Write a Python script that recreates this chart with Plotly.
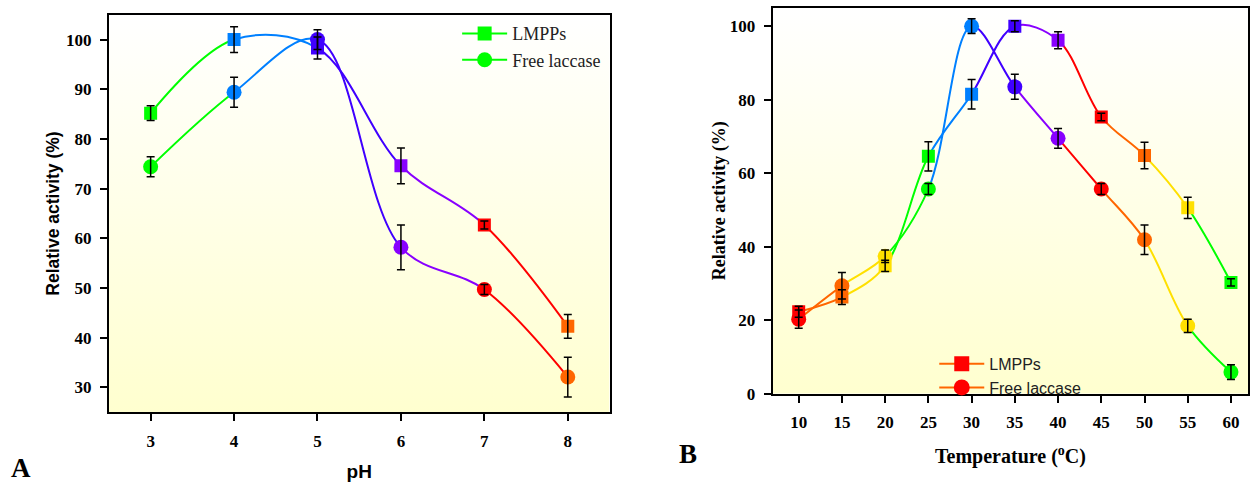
import plotly.graph_objects as go

# ---------------- Data: panel A (pH) ----------------
ph = [3, 4, 5, 6, 7, 8]
ph_lmpps = [85.2, 100.0, 98.3, 74.6, 62.7, 42.3]
ph_lmpps_err = [1.5, 2.6, 2.2, 3.6, 0.8, 2.4]
ph_free = [74.4, 89.4, 100.0, 58.2, 49.7, 32.1]
ph_free_err = [2.0, 3.0, 2.0, 4.5, 1.0, 4.0]
ph_point_colors = ["#00FF00", "#0080FF", "#4000FF", "#8800FF", "#FF0000", "#FF6600"]
ph_segment_colors = ph_point_colors[:-1]          # segment coloured by its start point

# ---------------- Data: panel B (temperature) ----------------
temp = [10, 15, 20, 25, 30, 35, 40, 45, 50, 55, 60]
t_lmpps = [22.3, 26.3, 34.8, 64.6, 81.5, 100.0, 96.2, 75.3, 64.8, 50.6, 30.3]
t_lmpps_err = [1.5, 2.0, 1.5, 4.0, 4.0, 1.5, 2.3, 1.0, 3.6, 2.9, 1.0]
t_free = [20.3, 29.4, 37.4, 55.7, 100.0, 83.5, 69.5, 55.7, 41.9, 18.5, 5.9]
t_free_err = [2.5, 3.6, 1.7, 1.5, 2.0, 3.4, 2.7, 1.5, 4.0, 1.8, 2.0]
t_point_colors = ["#FF0000", "#FF6600", "#FFE000", "#00FF00", "#0080FF", "#4000FF",
                  "#8800FF", "#FF0000", "#FF6600", "#FFE000", "#00FF00"]
t_segment_colors = t_point_colors[1:]             # segment coloured by its end point

series_names = ["LMPPs", "Free laccase"]

# ---------------- Layout geometry ----------------
L_DOM_X, L_DOM_Y = [0.0872, 0.488], [0.132, 0.969]
R_DOM_X, R_DOM_Y = [0.6187, 0.9994], [0.171, 0.9835]
L_XR, L_YR = [2.5, 8.5], [25, 105]
R_XR, R_YR = [7, 62], [0, 105]

SERIF = "Liberation Serif, Times New Roman, serif"
SANS = "Liberation Sans, Arial, sans-serif"

fig = go.Figure()
layout = {}

def bg_trace(xa, ya, xr, yr):
    return go.Scatter(
        x=[xr[0], xr[1], xr[1], xr[0], xr[0]], y=[yr[0], yr[0], yr[1], yr[1], yr[0]],
        xaxis=xa, yaxis=ya, mode="lines", line=dict(width=0), fill="toself",
        fillgradient=dict(type="vertical", colorscale=[[0, "#FFFFCF"], [1, "#FFFFFF"]]),
        hoverinfo="skip", showlegend=False)

fig.add_trace(bg_trace("x", "y", L_XR, L_YR))
fig.add_trace(bg_trace("x2", "y2", R_XR, R_YR))

axis_counter = [3]

def add_segments(xs, series_list, seg_colors, dom, xr, ya):
    """Each segment is drawn with Plotly's spline on a hidden x-axis whose domain
    covers exactly that segment, so the smooth curve is clipped per colour."""
    for k in range(len(xs) - 1):
        aid = axis_counter[0]
        axis_counter[0] += 1
        f0 = (xs[k] - xr[0]) / (xr[1] - xr[0])
        f1 = (xs[k + 1] - xr[0]) / (xr[1] - xr[0])
        d0 = dom[0] + f0 * (dom[1] - dom[0])
        d1 = dom[0] + f1 * (dom[1] - dom[0])
        layout["xaxis%d" % aid] = dict(domain=[d0, d1], range=[xs[k], xs[k + 1]],
                                        visible=False, anchor=ya, fixedrange=True)
        lo, hi = max(0, k - 1), min(len(xs), k + 3)
        for ys in series_list:
            fig.add_trace(go.Scatter(
                x=xs[lo:hi], y=ys[lo:hi], xaxis="x%d" % aid, yaxis=ya,
                mode="lines", line=dict(color=seg_colors[k], width=2, shape="spline", smoothing=1),
                hoverinfo="skip", showlegend=False))

add_segments(ph, [ph_lmpps, ph_free], ph_segment_colors, L_DOM_X, L_XR, "y")
add_segments(temp, [t_lmpps, t_free], t_segment_colors, R_DOM_X, R_XR, "y2")

def add_markers(xs, series, errs, colors, dom, xr, ya):
    aid = axis_counter[0]
    axis_counter[0] += 1
    layout["xaxis%d" % aid] = dict(domain=dom, range=xr, visible=False, anchor=ya, fixedrange=True)
    symbols = ["square", "circle"]
    sizes = [13, 15]
    for ys, sym, sz in zip(series, symbols, sizes):
        fig.add_trace(go.Scatter(
            x=xs, y=ys, xaxis="x%d" % aid, yaxis=ya, mode="markers",
            marker=dict(symbol=sym, size=sz, color=colors, line=dict(width=0)),
            showlegend=False))
    for ys, es in zip(series, errs):
        fig.add_trace(go.Scatter(
            x=xs, y=ys, xaxis="x%d" % aid, yaxis=ya, mode="markers",
            marker=dict(size=1, color="rgba(0,0,0,0)"),
            error_y=dict(type="data", array=es, visible=True, color="black", thickness=1.5, width=4),
            showlegend=False, hoverinfo="skip"))

add_markers(ph, [ph_lmpps, ph_free], [ph_lmpps_err, ph_free_err], ph_point_colors, L_DOM_X, L_XR, "y")
add_markers(temp, [t_lmpps, t_free], [t_lmpps_err, t_free_err], t_point_colors, R_DOM_X, R_XR, "y2")

# legend entries
for name, sym, sz in zip(series_names, ["square", "circle"], [14, 15]):
    fig.add_trace(go.Scatter(x=[None], y=[None], xaxis="x", yaxis="y", mode="lines+markers", name=name,
                             line=dict(color=ph_segment_colors[0], width=2),
                             marker=dict(symbol=sym, size=sz, color=ph_point_colors[0]),
                             legend="legend"))
for name, sym, sz in zip(series_names, ["square", "circle"], [15, 16]):
    fig.add_trace(go.Scatter(x=[None], y=[None], xaxis="x2", yaxis="y2", mode="lines+markers", name=name,
                             line=dict(color=t_segment_colors[0], width=2),
                             marker=dict(symbol=sym, size=sz, color=t_point_colors[0]),
                             legend="legend2"))

def main_axis(dom, rng, anchor, tickvals, font, title, title_font, standoff):
    return dict(domain=dom, range=rng, anchor=anchor, tickvals=tickvals,
                showline=True, linecolor="black", linewidth=2, mirror=True,
                ticks="outside", ticklen=7, tickwidth=2, tickcolor="black",
                ticklabelstandoff=5,
                showgrid=False, zeroline=False, fixedrange=True,
                tickfont=font, title=dict(text=title, font=title_font, standoff=standoff))

tick_font = dict(family=SERIF, size=17, color="black", weight="bold")

layout["xaxis"] = main_axis(L_DOM_X, L_XR, "y", ph, tick_font, "pH",
                            dict(family=SANS, size=19, color="black", weight="bold"), 15)
layout["yaxis"] = main_axis(L_DOM_Y, L_YR, "x", [30, 40, 50, 60, 70, 80, 90, 100], tick_font,
                            "Relative activity (%)", dict(family=SANS, size=17.5, color="black", weight="bold"), 2)
layout["xaxis2"] = main_axis(R_DOM_X, R_XR, "y2", temp, tick_font, "Temperature (<sup>o</sup>C)",
                             dict(family=SERIF, size=20, color="black", weight="bold"), 18)
layout["yaxis2"] = main_axis(R_DOM_Y, R_YR, "x2", [0, 20, 40, 60, 80, 100], tick_font,
                             "Relative activity (%)", dict(family=SERIF, size=18, color="black", weight="bold"), 0)

fig.update_layout(
    width=1250, height=485, margin=dict(l=0, r=0, t=0, b=0),
    paper_bgcolor="white", plot_bgcolor="rgba(0,0,0,0)",
    legend=dict(x=0.366, y=0.968, xanchor="left", yanchor="top", bgcolor="rgba(0,0,0,0)",
                font=dict(family=SERIF, size=18, color="#222"), itemwidth=45, tracegroupgap=0),
    legend2=dict(x=0.748, y=0.27, xanchor="left", yanchor="top", bgcolor="rgba(0,0,0,0)",
                 font=dict(family=SANS, size=16, color="#222"), itemwidth=45, tracegroupgap=0),
    annotations=[
        dict(text="A", x=21 / 1250, y=1 - 478 / 485, xref="paper", yref="paper", showarrow=False,
             xanchor="center", yanchor="middle",
             font=dict(family=SERIF, size=27, color="black", weight="bold")),
        dict(text="B", x=689 / 1250, y=1 - 464 / 485, xref="paper", yref="paper", showarrow=False,
             xanchor="center", yanchor="middle",
             font=dict(family=SERIF, size=27, color="black", weight="bold")),
    ],
    **layout,
)

fig.write_html("out.html")
